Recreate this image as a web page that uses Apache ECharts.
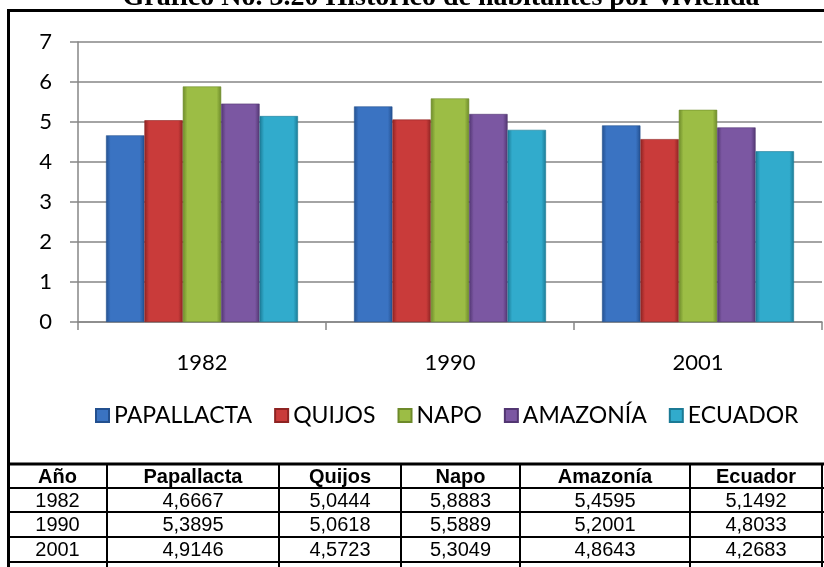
<!DOCTYPE html>
<html>
<head>
<meta charset="utf-8">
<script src="https://cdn.jsdelivr.net/npm/echarts@6.0.0/dist/echarts.min.js"></script>
<style>
  html, body { margin: 0; padding: 0; background: #fff; }
  #main { width: 824px; height: 567px; }
</style>
</head>
<body>
<div id="main"></div>
<script>
var years = ['1982', '1990', '2001'];
var seriesNames = ['PAPALLACTA', 'QUIJOS', 'NAPO', 'AMAZONÍA', 'ECUADOR'];
var tableHeaders = ['Año', 'Papallacta', 'Quijos', 'Napo', 'Amazonía', 'Ecuador'];
var papallacta = [4.6667, 5.3895, 4.9146];
var quijos = [5.0444, 5.0618, 4.5723];
var napo = [5.8883, 5.5889, 5.3049];
var amazonia = [5.4595, 5.2001, 4.8643];
var ecuador = [5.1492, 4.8033, 4.2683];
var yTicks = [0, 1, 2, 3, 4, 5, 6, 7];

var allValues = [papallacta, quijos, napo, amazonia, ecuador];
var colors = ['#3a73c2', '#c93b3a', '#9cbd45', '#7b57a2', '#31abcc'];
var darks = ['#23508f', '#8e2322', '#6d8a2a', '#523672', '#1b7a95'];

var labelFont = 'Lato';

function barColor(i) {
  return new echarts.graphic.LinearGradient(0, 0, 1, 0, [
    { offset: 0, color: darks[i] },
    { offset: 0.12, color: colors[i] },
    { offset: 0.88, color: colors[i] },
    { offset: 1, color: darks[i] }
  ]);
}

// table under the chart, drawn as graphic elements
function tableGraphic() {
  var cols = [8, 107, 279, 401, 520, 690, 822];
  var rows = [464, 488, 512, 537, 562];
  var els = [];
  rows.forEach(function (y, k) {
    els.push({
      type: 'line',
      shape: { x1: 8, y1: y, x2: 824, y2: y },
      style: { stroke: '#000', lineWidth: k === 0 ? 3 : 2 }
    });
  });
  cols.forEach(function (x) {
    els.push({
      type: 'line',
      shape: { x1: x, y1: rows[0], x2: x, y2: 567 },
      style: { stroke: '#000', lineWidth: 2 }
    });
  });
  var cells = [tableHeaders];
  years.forEach(function (yr, r) {
    var row = [yr];
    allValues.forEach(function (vals) {
      row.push(vals[r].toFixed(4).replace('.', ','));
    });
    cells.push(row);
  });
  cells.forEach(function (row, r) {
    row.forEach(function (txt, c) {
      els.push({
        type: 'text',
        x: (cols[c] + cols[c + 1]) / 2,
        y: (rows[r] + rows[r + 1]) / 2 + 1,
        style: {
          text: txt,
          font: (r === 0 ? 'bold ' : '') + '20px "Liberation Sans"',
          fill: '#000',
          textAlign: 'center',
          textVerticalAlign: 'middle',
          align: 'center',
          verticalAlign: 'middle'
        }
      });
    });
  });
  return els;
}

var myChart = echarts.init(document.getElementById('main'));

var option = {
  animation: false,
  color: colors,
  grid: {
    left: 78,
    right: 2,
    top: 42,
    bottom: 245,
    containLabel: false
  },
  legend: {
    data: seriesNames,
    left: 90,
    top: 399,
    itemWidth: 13,
    itemHeight: 13,
    itemGap: 22,
    icon: 'rect',
    textStyle: {
      fontFamily: labelFont,
      fontSize: 23,
      color: '#000'
    }
  },
  xAxis: {
    type: 'category',
    data: years,
    axisLine: { lineStyle: { color: '#868686', width: 1.5 } },
    axisTick: { show: true, length: 8, lineStyle: { color: '#868686', width: 1.5 } },
    axisLabel: { fontFamily: labelFont, fontSize: 22, color: '#000', margin: 30 }
  },
  yAxis: {
    type: 'value',
    min: yTicks[0],
    max: yTicks[yTicks.length - 1],
    interval: 1,
    axisLine: { show: true, lineStyle: { color: '#868686', width: 1.5 } },
    axisTick: { show: true, length: 8, lineStyle: { color: '#868686', width: 1.5 } },
    axisLabel: { fontFamily: labelFont, fontSize: 22, color: '#000', margin: 26 },
    splitLine: { lineStyle: { color: '#868686', width: 1.5 } }
  },
  series: allValues.map(function (vals, i) {
    return {
      type: 'bar',
      name: seriesNames[i],
      data: vals,
      barGap: 0,
      barCategoryGap: '22.6%',
      itemStyle: {
        color: barColor(i),
        borderColor: darks[i],
        borderWidth: 0.6
      }
    };
  }),
  graphic: [
    {
      type: 'text',
      x: 441,
      y: -2,
      style: {
        text: 'Gráfico No. 3.20 Histórico de habitantes por vivienda',
        font: 'bold 28px "Liberation Serif"',
        fill: '#000',
        textAlign: 'center',
        textVerticalAlign: 'middle',
        align: 'center',
        verticalAlign: 'middle'
      }
    },
    // chart frame
    { type: 'line', shape: { x1: 8, y1: 10.5, x2: 824, y2: 10.5 }, style: { stroke: '#000', lineWidth: 3 } },
    { type: 'line', shape: { x1: 8.5, y1: 9, x2: 8.5, y2: 567 }, style: { stroke: '#000', lineWidth: 3 } }
  ].concat(tableGraphic())
};

myChart.setOption(option);
</script>
</body>
</html>
